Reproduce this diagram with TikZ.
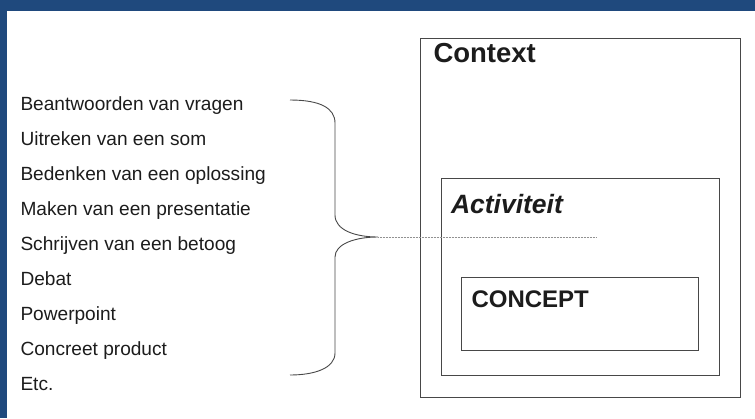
\documentclass[tikz,border=0pt]{standalone}
\usepackage{fontspec}
\setmainfont{Liberation Sans}
\usetikzlibrary{positioning}
\definecolor{frameblue}{RGB}{31,73,125}
\definecolor{linegray}{RGB}{72,72,72}
\definecolor{inkblack}{RGB}{28,28,28}

\begin{document}
\begin{tikzpicture}[x=1pt, y=-1pt, every node/.style={inner sep=0pt, outer sep=0pt, text=inkblack},
    box/.style={rectangle, draw=linegray, line width=0.9pt, anchor=north west},
    item/.style={anchor=base west, font=\fontsize{19.1}{22}\selectfont}]
    \useasboundingbox (0,0) rectangle (755,418);
    % Blue frame, top and left
    \fill[frameblue] (0,0) rectangle (755,11);
    \fill[frameblue] (0,0) rectangle (7,418);

    % List of activities
    \foreach \i/\txt in {0/Beantwoorden van vragen, 1/Uitreken van een som,
                         2/Bedenken van een oplossing, 3/Maken van een presentatie,
                         4/Schrijven van een betoog, 5/Debat, 6/Powerpoint,
                         7/Concreet product, 8/Etc.} {
        \node[item] (item\i) at (20.5, 110.5+35*\i) {\txt};
    }

    % Nested boxes
    \node[box, minimum width=320pt, minimum height=359pt] (context) at (420,38) {};
    \node[box, minimum width=278pt, minimum height=197pt] (activiteit) at (441,178) {};
    \node[box, minimum width=237pt, minimum height=73pt] (concept) at (461,277) {};

    \node[anchor=base west, font=\bfseries\fontsize{27.5}{30}\selectfont] (contextlbl) at (433.5,62.7) {Context};
    \node[anchor=base west, font=\bfseries\itshape\fontsize{26.5}{30}\selectfont] (activiteitlbl) at (451,213) {Activiteit};
    \node[anchor=base west, font=\bfseries\fontsize{24}{28}\selectfont] (conceptlbl) at (471.5,307) {CONCEPT};

    % Brace and dotted line into the boxes
    \coordinate (bracetop) at (290,100);
    \coordinate (bracebot) at (290,375);
    \coordinate (tip) at (378,237);
    \coordinate (lineend) at (597,237);
    \draw[linegray, line width=0.9pt] (bracetop) .. controls (320,100) and (335,108) .. (335,123)
        -- (335,215) .. controls (335,230) and (355,237) .. (tip)
        .. controls (355,237) and (335,244) .. (335,257)
        -- (335,353) .. controls (335,368) and (315,375) .. (bracebot);
    \draw[linegray!60, line width=0.5pt, densely dotted] (tip) -- (lineend);
\end{tikzpicture}
\end{document}
